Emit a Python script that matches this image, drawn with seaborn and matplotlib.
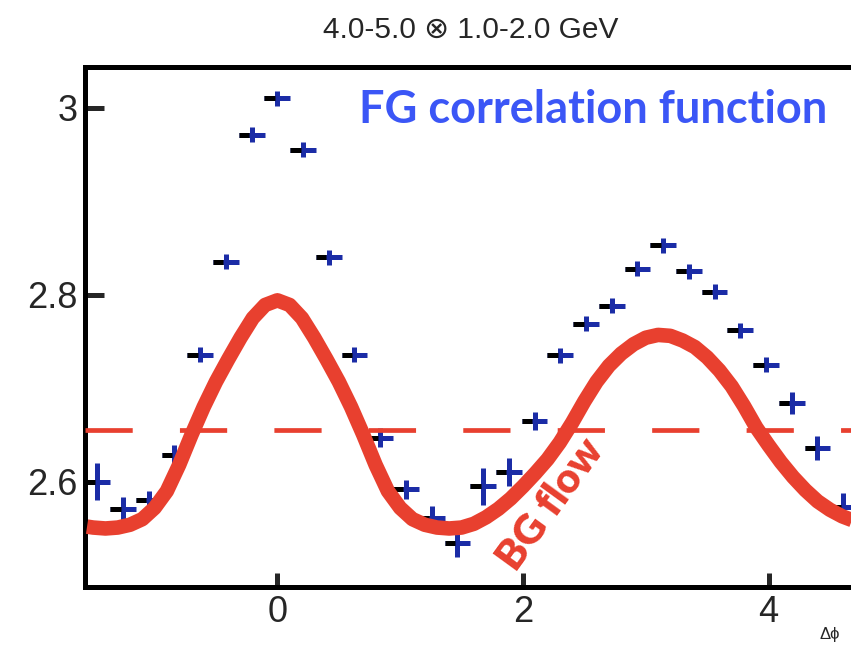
import matplotlib
matplotlib.use("Agg")
import matplotlib.pyplot as plt
import seaborn as sns
import numpy as np
import pandas as pd

# FG correlation function (bin centres in rad, values, vertical errors)
dphi = [-1.466, -1.257, -1.047, -0.838, -0.628, -0.419, -0.209, 0.0,
        0.209, 0.419, 0.628, 0.838, 1.047, 1.257, 1.466, 1.676, 1.885,
        2.094, 2.304, 2.513, 2.723, 2.932, 3.142, 3.351, 3.560, 3.770,
        3.979, 4.189, 4.398, 4.608]
fg_val = [2.600, 2.571, 2.580, 2.629, 2.736, 2.835, 2.971, 3.010,
          2.955, 2.840, 2.736, 2.647, 2.592, 2.561, 2.534, 2.595, 2.610,
          2.665, 2.735, 2.769, 2.788, 2.828, 2.853, 2.825, 2.803, 2.762,
          2.725, 2.684, 2.636, 2.573]
fg_err = [0.020, 0.013, 0.010, 0.010, 0.008, 0.008, 0.008, 0.008,
          0.008, 0.008, 0.008, 0.010, 0.010, 0.013, 0.015, 0.020, 0.015,
          0.010, 0.008, 0.008, 0.008, 0.008, 0.008, 0.008, 0.008, 0.008,
          0.008, 0.012, 0.013, 0.015]
bin_half = 0.105

# BG flow curve
bg_x = [-1.55, -1.5, -1.4, -1.3, -1.2, -1.1, -1.0, -0.9, -0.8, -0.7, -0.6,
        -0.5, -0.4, -0.3, -0.2, -0.1, 0.0, 0.1, 0.2, 0.3, 0.4, 0.5, 0.6,
        0.7, 0.8, 0.9, 1.0, 1.1, 1.2, 1.3, 1.4, 1.5, 1.6, 1.7, 1.8, 1.9,
        2.0, 2.1, 2.2, 2.3, 2.4, 2.5, 2.6, 2.7, 2.8, 2.9, 3.0, 3.1, 3.2,
        3.3, 3.4, 3.5, 3.6, 3.7, 3.8, 3.9, 4.0, 4.1, 4.2, 4.3, 4.4, 4.5,
        4.6, 4.7]
bg_y = [2.552, 2.551, 2.550, 2.551, 2.554, 2.560, 2.572, 2.590, 2.618,
        2.650, 2.680, 2.707, 2.731, 2.754, 2.775, 2.789, 2.794, 2.789,
        2.775, 2.754, 2.731, 2.707, 2.680, 2.650, 2.618, 2.590, 2.572,
        2.560, 2.554, 2.551, 2.550, 2.551, 2.555, 2.562, 2.571, 2.582,
        2.595, 2.609, 2.624, 2.642, 2.663, 2.686, 2.707, 2.724, 2.737,
        2.747, 2.754, 2.757, 2.756, 2.751, 2.744, 2.733, 2.719, 2.702,
        2.681, 2.658, 2.639, 2.621, 2.605, 2.591, 2.579, 2.570, 2.563,
        2.558]
bg_level = 2.655

x_ticks = [0, 2, 4]
y_ticks = [2.6, 2.8, 3.0]
y_ticklabels = ["2.6", "2.8", "3"]

red = "#e8402f"
dark_blue = "#1b2ca6"
text_blue = "#3b56f6"

sns.set_style("white")
plt.rcParams["font.family"] = ["Liberation Sans", "DejaVu Sans"]

fig = plt.figure(figsize=(8.51, 6.45), dpi=100)
ax = fig.add_axes([0.0993, 0.0899, 0.9066, 0.8062])

fg = pd.DataFrame({"dphi": dphi, "val": fg_val, "err": fg_err})
bg = pd.DataFrame({"dphi": bg_x, "val": bg_y})

# data points: blue crosses with a black left half on the horizontal arm
ax.errorbar(fg["dphi"], fg["val"], xerr=bin_half, yerr=fg["err"], fmt="none",
            ecolor=dark_blue, elinewidth=3.6, capsize=0, zorder=2)
ax.hlines(fg["val"], fg["dphi"] - bin_half, fg["dphi"] - 0.02,
          color="black", linewidth=3.6, zorder=2.5)

ax.axhline(bg_level, color=red, linewidth=3.4, linestyle=(0, (10, 10)), zorder=3)
sns.lineplot(data=bg, x="dphi", y="val", color=red, linewidth=10.5,
             sort=False, ax=ax, zorder=4, solid_joinstyle="round",
             solid_capstyle="butt")

ax.set_xlim(-np.pi / 2, 3 * np.pi / 2)
ax.set_ylim(2.4874, 3.0435)
ax.set_xticks(x_ticks)
ax.set_xticklabels([str(t) for t in x_ticks])
ax.set_yticks(y_ticks)
ax.set_yticklabels(y_ticklabels)
ax.set_xlabel("")
ax.set_ylabel("")

ax.tick_params(axis="y", direction="in", length=14, width=3.6, labelsize=26,
               pad=5, left=True)
ax.tick_params(axis="x", direction="in", length=10, width=3.6, labelsize=26,
               pad=6, bottom=True)
for side in ["left", "top", "bottom"]:
    ax.spines[side].set_linewidth(3.6)
    ax.spines[side].set_color("black")
ax.spines["right"].set_visible(False)

ax.set_title("4.0-5.0 \u2297 1.0-2.0 GeV", fontsize=21.5, pad=21)

ax.text(0.668, 2.9836, "FG correlation function", color=text_blue,
        fontsize=32.5, fontweight="bold", family=["Lato", "DejaVu Sans"],
        ha="left", va="baseline", zorder=5)
ax.text(2.225, 2.575, "BG flow", color=red, fontsize=30, fontweight="heavy",
        family=["Lato", "DejaVu Sans"], rotation=54, rotation_mode="anchor",
        ha="center", va="center", zorder=5)

fig.text(830 / 851, 1 - 634 / 645, "\u0394\u03d5", fontsize=12,
         ha="center", va="center")

fig.savefig("out.png", dpi=100)
